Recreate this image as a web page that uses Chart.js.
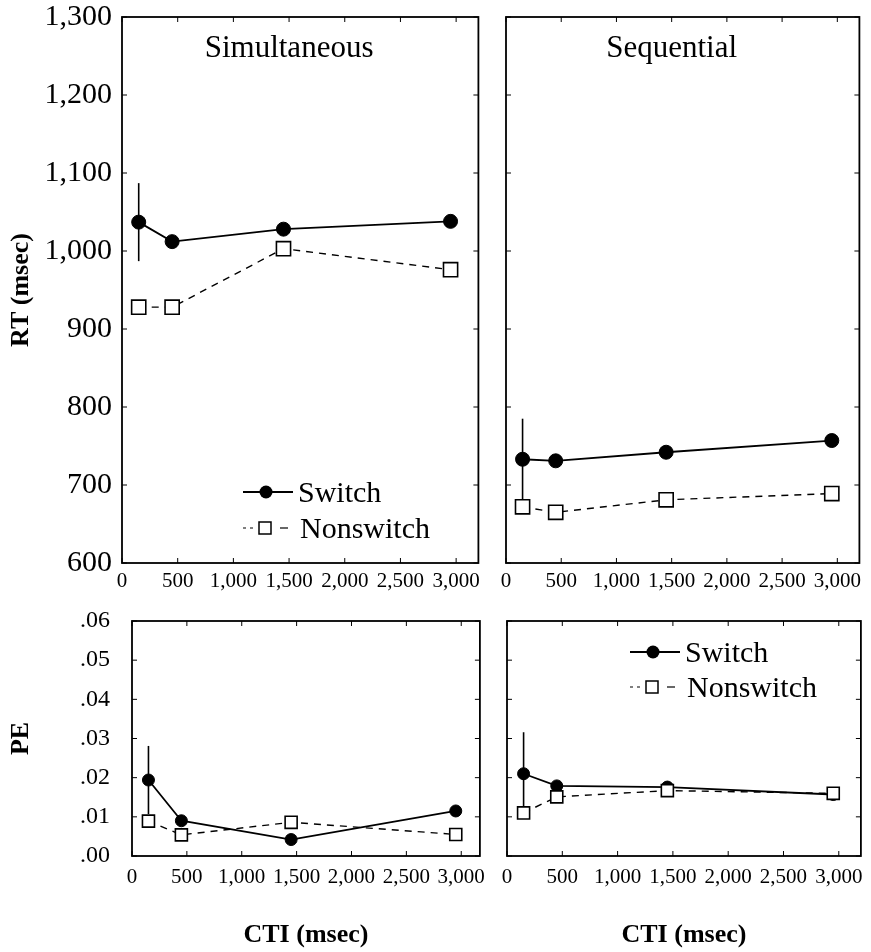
<!DOCTYPE html>
<html>
<head>
<meta charset="utf-8">
<script src="https://cdn.jsdelivr.net/npm/chart.js@4.4.1/dist/chart.umd.min.js"></script>
<style>
  body { margin: 0; background: #fff; }
  #wrap { position: relative; width: 871px; height: 952px; }
  canvas { position: absolute; }
</style>
</head>
<body>
<div id="wrap">
  <canvas id="simRt" width="490" height="600" style="left:0px;top:0px"></canvas>
  <canvas id="seqRt" width="381" height="600" style="left:490px;top:0px"></canvas>
  <canvas id="simPe" width="490" height="352" style="left:0px;top:600px"></canvas>
  <canvas id="seqPe" width="381" height="352" style="left:490px;top:600px"></canvas>
</div>
<script>
// data
const seriesNames = ['Switch', 'Nonswitch'];
const cti = [150, 450, 1450, 2950];
const ctiTicks = [0, 500, 1000, 1500, 2000, 2500, 3000];
const rtTicks = [600, 700, 800, 900, 1000, 1100, 1200, 1300];
const peTicks = [0, 0.01, 0.02, 0.03, 0.04, 0.05, 0.06];

const simRtSwitch = [1037, 1012, 1028, 1038];
const simRtNonswitch = [928, 928, 1003, 976];
const simRtErr = [50, 0, 0, 0];

const seqRtSwitch = [733, 731, 742, 757];
const seqRtNonswitch = [672, 665, 681, 689];
const seqRtErr = [52, 0, 0, 0];

const simPeSwitch = [0.0194, 0.0090, 0.0042, 0.0115];
const simPeNonswitch = [0.0089, 0.0054, 0.0086, 0.0055];
const simPeErr = [0.0087, 0, 0, 0];

const seqPeSwitch = [0.0210, 0.0179, 0.0176, 0.0157];
const seqPeNonswitch = [0.0110, 0.0151, 0.0167, 0.0160];
const seqPeErr = [0.0106, 0, 0, 0];

const SERIF = "'Liberation Serif', 'Times New Roman', serif";
Chart.defaults.font.family = SERIF;
Chart.defaults.color = '#000';

function points(vals) {
    return cti.map((x, i) => ({ x: x, y: vals[i] }));
}

function drawLegend(ctx, lg) {
    ctx.save();
    ctx.font = '30px ' + SERIF;
    ctx.fillStyle = '#000';
    ctx.strokeStyle = '#000';
    ctx.textAlign = 'left';
    ctx.textBaseline = 'alphabetic';

    let y = lg.y;
    ctx.lineWidth = 1.8;
    ctx.beginPath(); ctx.moveTo(lg.x, y); ctx.lineTo(lg.x + 50, y); ctx.stroke();
    ctx.beginPath(); ctx.arc(lg.x + 23, y, 6.5, 0, Math.PI * 2); ctx.fill();
    ctx.fillText(seriesNames[0], lg.x + 55, y + 10);

    y += lg.dy;
    ctx.lineWidth = 1.2;
    ctx.setLineDash([3, 4]);
    ctx.beginPath(); ctx.moveTo(lg.x, y); ctx.lineTo(lg.x + 14, y); ctx.stroke();
    ctx.setLineDash([]);
    ctx.beginPath(); ctx.moveTo(lg.x + 37, y); ctx.lineTo(lg.x + 45, y); ctx.stroke();
    ctx.fillStyle = '#fff';
    ctx.fillRect(lg.x + 16, y - 6, 12, 12);
    ctx.lineWidth = 1.5;
    ctx.strokeRect(lg.x + 16, y - 6, 12, 12);
    ctx.fillStyle = '#000';
    ctx.fillText(seriesNames[1], lg.x + 57, y + 10);
    ctx.restore();
}

// frame, inward ticks, error bar, panel title, legend
const panelPlugin = {
    id: 'panel',
    beforeDatasetsDraw(chart, args, o) {
        const { ctx, scales: { x, y } } = chart;
        ctx.save();
        ctx.strokeStyle = '#000';
        ctx.lineWidth = 1.6;
        o.err.forEach((e, i) => {
            if (!e) return;
            const px = x.getPixelForValue(cti[i]);
            ctx.beginPath();
            ctx.moveTo(px, y.getPixelForValue(o.base[i] + e));
            ctx.lineTo(px, y.getPixelForValue(o.base[i] - e));
            ctx.stroke();
        });
        ctx.restore();
    },
    afterDraw(chart, args, o) {
        const { ctx, chartArea: a, scales: { x, y } } = chart;
        ctx.save();
        ctx.strokeStyle = '#000';
        ctx.lineWidth = 1.8;
        ctx.strokeRect(a.left, a.top, a.right - a.left, a.bottom - a.top);
        ctx.lineWidth = 1;
        ctx.beginPath();
        ctiTicks.forEach(v => {
            const px = x.getPixelForValue(v);
            ctx.moveTo(px, a.bottom); ctx.lineTo(px, a.bottom - 5);
            ctx.moveTo(px, a.top); ctx.lineTo(px, a.top + 5);
        });
        o.yTicks.forEach(v => {
            const py = y.getPixelForValue(v);
            ctx.moveTo(a.left, py); ctx.lineTo(a.left + 5, py);
            ctx.moveTo(a.right, py); ctx.lineTo(a.right - 5, py);
        });
        ctx.stroke();

        if (o.title) {
            ctx.font = '31px ' + SERIF;
            ctx.fillStyle = '#000';
            ctx.textAlign = 'center';
            ctx.textBaseline = 'alphabetic';
            ctx.fillText(o.title, x.getPixelForValue(1500), a.top + 40);
        }
        ctx.restore();
        if (o.legend) drawLegend(ctx, o.legend);
    }
};

function makePanel(id, cfg) {
    new Chart(document.getElementById(id), {
        type: 'line',
        data: {
            datasets: [{
                label: seriesNames[0],
                data: points(cfg.sw),
                order: 1,
                borderColor: '#000',
                borderWidth: 1.8,
                pointStyle: 'circle',
                pointRadius: cfg.dot,
                pointBackgroundColor: '#000',
                pointBorderColor: '#000',
                pointBorderWidth: 1
            }, {
                label: seriesNames[1],
                data: points(cfg.ns),
                order: 0,
                borderColor: '#000',
                borderWidth: 1.4,
                borderDash: [7, 6],
                pointStyle: 'rect',
                pointRadius: cfg.sq,
                pointBackgroundColor: '#fff',
                pointBorderColor: '#000',
                pointBorderWidth: 1.6
            }]
        },
        options: {
            responsive: false,
            animation: false,
            events: [],
            layout: { padding: cfg.pad },
            plugins: {
                legend: { display: false },
                tooltip: { enabled: false },
                panel: { err: cfg.err, base: cfg.sw, yTicks: cfg.yTicks, title: cfg.title, legend: cfg.legend }
            },
            scales: {
                x: {
                    type: 'linear',
                    min: 0,
                    max: cfg.xMax,
                    grid: { display: false, drawTicks: false },
                    border: { display: false },
                    afterBuildTicks: s => { s.ticks = ctiTicks.map(v => ({ value: v })); },
                    ticks: {
                        autoSkip: false,
                        maxRotation: 0,
                        padding: cfg.xPad,
                        font: { size: 21 },
                        callback: v => v.toLocaleString('en-US')
                    },
                    title: {
                        display: !!cfg.xTitle,
                        text: cfg.xTitle || '',
                        font: { size: 26, weight: 'bold' },
                        padding: { top: 0, bottom: 1 }
                    },
                    afterFit: s => { s.height = cfg.xH; s.paddingLeft = 0; s.paddingRight = 0; }
                },
                y: {
                    min: cfg.yMin,
                    max: cfg.yMax,
                    grid: { display: false, drawTicks: false },
                    border: { display: false },
                    afterBuildTicks: s => { s.ticks = cfg.yTicks.map(v => ({ value: v })); },
                    ticks: {
                        display: cfg.yLabels,
                        padding: cfg.yPad,
                        font: { size: cfg.yFont },
                        callback: cfg.yFmt
                    },
                    title: {
                        display: !!cfg.yTitle,
                        text: cfg.yTitle || '',
                        font: { size: 26, weight: 'bold' },
                        padding: { top: 6, bottom: 0 }
                    },
                    afterFit: s => { s.width = cfg.yW; s.paddingTop = 0; s.paddingBottom = 0; }
                }
            }
        },
        plugins: [panelPlugin]
    });
}

const rtFmt = v => v.toLocaleString('en-US');
const peFmt = v => v.toFixed(2).replace(/^0/, '');

makePanel('simRt', {
    sw: simRtSwitch, ns: simRtNonswitch, err: simRtErr,
    dot: 7, sq: 10, xMax: 3200, xPad: 6, xH: 37,
    yMin: 600, yMax: 1300, yTicks: rtTicks, yLabels: true, yPad: 10, yFont: 30, yFmt: rtFmt,
    yTitle: 'RT (msec)', yW: 122,
    pad: { top: 17, right: 10, left: 0, bottom: 0 },
    title: 'Simultaneous',
    legend: { x: 243, y: 492, dy: 36 }
});

makePanel('seqRt', {
    sw: seqRtSwitch, ns: seqRtNonswitch, err: seqRtErr,
    dot: 7, sq: 10, xMax: 3200, xPad: 6, xH: 37,
    yMin: 600, yMax: 1300, yTicks: rtTicks, yLabels: false, yPad: 0, yFont: 30, yFmt: rtFmt,
    yW: 16,
    pad: { top: 17, right: 10, left: 0, bottom: 0 },
    title: 'Sequential'
});

makePanel('simPe', {
    sw: simPeSwitch, ns: simPeNonswitch, err: simPeErr,
    dot: 6, sq: 8.5, xMax: 3170, xPad: 9, xH: 96, xTitle: 'CTI (msec)',
    yMin: 0, yMax: 0.06, yTicks: peTicks, yLabels: true, yPad: 22, yFont: 24, yFmt: peFmt,
    yTitle: 'PE', yW: 132,
    pad: { top: 21, right: 7, left: 0, bottom: 0 }
});

makePanel('seqPe', {
    sw: seqPeSwitch, ns: seqPeNonswitch, err: seqPeErr,
    dot: 6, sq: 8.5, xMax: 3200, xPad: 9, xH: 96, xTitle: 'CTI (msec)',
    yMin: 0, yMax: 0.06, yTicks: peTicks, yLabels: false, yPad: 0, yFont: 24, yFmt: peFmt,
    yW: 17,
    pad: { top: 21, right: 10, left: 0, bottom: 0 },
    legend: { x: 140, y: 52, dy: 35 }
});
</script>
</body>
</html>
